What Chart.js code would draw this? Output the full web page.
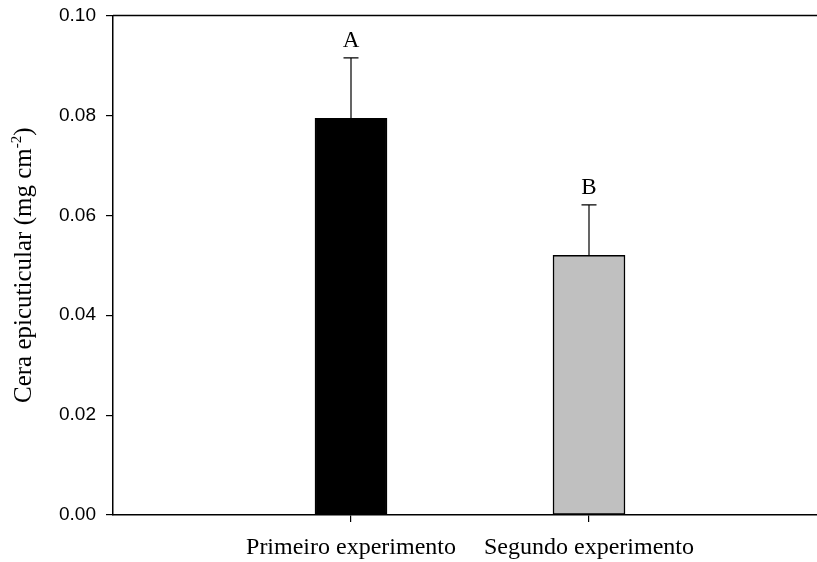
<!DOCTYPE html>
<html>
<head>
<meta charset="utf-8">
<script src="https://cdn.jsdelivr.net/npm/chart.js@4.4.0/dist/chart.umd.min.js"></script>
<style>
  body { margin: 0; overflow: hidden; background: #fff; }
  #wrap { width: 830px; height: 562px; }
</style>
</head>
<body>
<div id="wrap"><canvas id="grafico" width="830" height="562"></canvas></div>
<script>
// datos
const categorias = ['', 'Primeiro experimento', 'Segundo experimento', '']
const medias = [null, 0.0794, 0.052, null]
const erros = [null, 0.0121, 0.0101, null]
const letras = [null, 'A', 'B', null]
const ticksY = [0, 0.02, 0.04, 0.06, 0.08, 0.10]
const cores = [null, '#000000', '#c0c0c0', null]

const serif = '"Liberation Serif", "Times New Roman", serif'
const sans = '"Liberation Sans", Arial, sans-serif'

// barras de erro, letras, borda de cima e titulo do eixo y
const extras = {
    id: 'extras',
    afterDatasetsDraw(chart) {
        const c = chart.ctx
        const x = chart.scales.x
        const y = chart.scales.y
        const area = chart.chartArea

        c.save()
        c.strokeStyle = '#000'
        c.lineWidth = 1.5
        c.beginPath()
        c.moveTo(area.left, area.top)
        c.lineTo(area.right, area.top)
        c.stroke()

        c.lineWidth = 1.2
        for (let i = 0; i < medias.length; i++) {
            if (medias[i] == null) continue
            const px = x.getPixelForValue(i)
            const yTop = y.getPixelForValue(medias[i])
            const yErr = y.getPixelForValue(medias[i] + erros[i])
            c.beginPath()
            c.moveTo(px, yTop)
            c.lineTo(px, yErr)
            c.moveTo(px - 7.5, yErr)
            c.lineTo(px + 7.5, yErr)
            c.stroke()

            c.fillStyle = '#000'
            c.font = '23px ' + serif
            c.textAlign = 'center'
            c.textBaseline = 'alphabetic'
            c.fillText(letras[i], px, yErr - 11)
        }

        // titulo do eixo y com expoente
        c.translate(31, (area.top + area.bottom) / 2)
        c.rotate(-Math.PI / 2)
        c.fillStyle = '#000'
        c.textBaseline = 'alphabetic'
        c.textAlign = 'left'
        const t1 = 'Cera epicuticular (mg cm'
        const sup = '-2'
        const t2 = ')'
        c.font = '25px ' + serif
        const w1 = c.measureText(t1).width
        const w3 = c.measureText(t2).width
        c.font = '15px ' + serif
        const w2 = c.measureText(sup).width
        const total = w1 + w2 + w3
        let pos = -total / 2
        c.font = '25px ' + serif
        c.fillText(t1, pos, 0)
        pos += w1
        c.font = '15px ' + serif
        c.fillText(sup, pos, -10)
        pos += w2
        c.font = '25px ' + serif
        c.fillText(t2, pos, 0)
        c.restore()
    }
}

new Chart(document.getElementById('grafico'), {
    type: 'bar',
    data: {
        labels: categorias,
        datasets: [{
            data: medias,
            backgroundColor: cores,
            borderColor: '#000',
            borderWidth: 1.5,
            borderSkipped: false,
            barThickness: 72
        }]
    },
    options: {
        responsive: false,
        animation: false,
        layout: { padding: { top: 15.5, left: 0, right: 3, bottom: 0 } },
        plugins: { legend: { display: false }, tooltip: { enabled: false } },
        scales: {
            x: {
                offset: false,
                grid: {
                    offset: false,
                    drawOnChartArea: false,
                    tickLength: 7,
                    lineWidth: 1.2,
                    tickColor: (ctx) => (ctx.index === 1 || ctx.index === 2) ? '#000' : 'rgba(0,0,0,0)'
                },
                border: { color: '#000', width: 1.5 },
                ticks: {
                    color: '#000',
                    font: { family: serif, size: 24 },
                    padding: 11,
                    maxRotation: 0,
                    autoSkip: false
                },
                afterFit: (scale) => {
                    scale.height = 47
                    scale.paddingLeft = 0
                    scale.paddingRight = 0
                }
            },
            y: {
                min: 0,
                max: 0.1,
                afterBuildTicks: (scale) => { scale.ticks = ticksY.map(v => ({ value: v })) },
                grid: {
                    drawOnChartArea: false,
                    tickLength: 7,
                    lineWidth: 1.2,
                    tickColor: '#000'
                },
                border: { color: '#000', width: 1.5 },
                ticks: {
                    color: '#000',
                    font: { family: sans, size: 19 },
                    padding: 10,
                    callback: (v) => Number(v).toFixed(2)
                },
                afterFit: (scale) => {
                    scale.width = 113
                    scale.paddingTop = 0
                    scale.paddingBottom = 0
                }
            }
        }
    },
    plugins: [extras]
})
</script>
</body>
</html>
